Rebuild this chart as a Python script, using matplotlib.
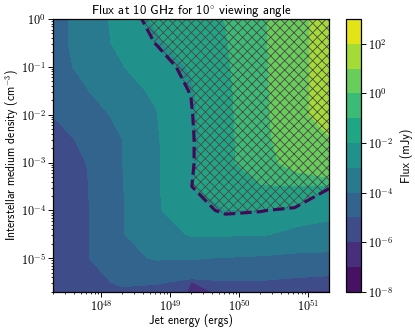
import numpy as np
import matplotlib
matplotlib.use("Agg")
import matplotlib.pyplot as plt
from matplotlib import ticker
from matplotlib.colors import LogNorm

plt.rcParams["font.family"] = ["cmss10", "DejaVu Sans"]
plt.rcParams["mathtext.fontset"] = "cm"
plt.rcParams["axes.unicode_minus"] = False
plt.rcParams["hatch.linewidth"] = 0.55
plt.rcParams["hatch.color"] = "#4a4a4a"

# grid of the simulation (log10 values)
log_energy = [47.3, 47.8, 48.3, 48.8, 49.3, 49.8, 50.3, 50.8, 51.3]
log_density = [0.0, -0.5, -1.0, -1.5, -2.0, -2.5, -3.0, -3.5, -4.0, -4.5, -5.0, -5.5, -5.7]

# log10 of the flux in mJy, one row per density
log_flux = [
    [-4.45, -3.61, -2.73, -1.86, -1.42, -0.97, -0.22, 0.58, 1.40],
    [-4.46, -3.60, -2.79, -2.12, -1.58, -1.08, -0.26, 0.58, 1.40],
    [-4.43, -3.74, -3.04, -2.49, -1.92, -1.22, -0.30, 0.58, 1.40],
    [-4.60, -4.02, -3.44, -2.82, -2.11, -1.33, -0.34, 0.58, 1.40],
    [-4.97, -4.42, -3.79, -3.04, -2.22, -1.37, -0.38, 0.56, 1.40],
    [-5.45, -4.76, -4.00, -3.12, -2.28, -1.39, -0.42, 0.50, 0.95],
    [-5.70, -4.97, -4.03, -3.17, -2.30, -1.35, -0.45, 0.30, 0.60],
    [-5.80, -5.05, -4.08, -3.17, -2.22, -1.10, -1.05, -1.20, -2.10],
    [-5.85, -5.10, -4.12, -3.20, -2.35, -2.05, -2.12, -2.50, -2.75],
    [-5.90, -5.10, -4.13, -3.20, -2.95, -2.95, -2.95, -3.30, -3.40],
    [-5.96, -5.10, -4.10, -3.95, -3.95, -4.10, -4.40, -4.40, -4.40],
    [-6.01, -5.30, -4.85, -4.90, -6.10, -5.10, -5.05, -5.20, -5.40],
    [-5.95, -5.40, -5.20, -5.50, -6.30, -5.80, -5.80, -6.05, -6.30],
]

detection_limit = 7e-3  # mJy
levels = np.logspace(-8, 3, 12)
cbar_ticks = [1e-8, 1e-6, 1e-4, 1e-2, 1e0, 1e2]

E, N = np.meshgrid(10 ** np.array(log_energy), 10 ** np.array(log_density))
F = 10 ** np.array(log_flux)

fig = plt.figure(figsize=(415 / 112, 332 / 112), dpi=112)
ax = fig.add_axes([0.1277, 0.1214, 0.6651, 0.8214])
cax = fig.add_axes([0.8337, 0.1214, 0.0354, 0.8214])

cs = ax.contourf(E, N, F, levels=levels, norm=LogNorm(), cmap="viridis")

# hatch the detectable region
ax.contourf(E, N, F, levels=[detection_limit, 1e4], colors="none", hatches=["xxxx"])
ax.contour(E, N, F, levels=[detection_limit], colors="#3f0b57",
           linestyles="--", linewidths=2.0)

ax.set_xscale("log")
ax.set_yscale("log")
ax.set_xlim(10 ** 47.3, 10 ** 51.3)
ax.set_ylim(10 ** -5.7, 1)

fmt = ticker.FuncFormatter(lambda v, p: r"$10^{%d}$" % round(np.log10(v)))
ax.xaxis.set_major_locator(ticker.FixedLocator([1e48, 1e49, 1e50, 1e51]))
ax.yaxis.set_major_locator(ticker.FixedLocator([1e0, 1e-1, 1e-2, 1e-3, 1e-4, 1e-5]))
ax.xaxis.set_major_formatter(fmt)
ax.yaxis.set_major_formatter(fmt)
ax.xaxis.set_minor_formatter(ticker.NullFormatter())
ax.yaxis.set_minor_formatter(ticker.NullFormatter())
ax.tick_params(which="major", labelsize=7.8, length=3, width=0.6, pad=1.5)
ax.tick_params(which="minor", length=1.5, width=0.5)

ax.set_xlabel("Jet energy (ergs)", fontsize=7.6)
ax.set_ylabel("Interstellar medium density (cm$^{-3}$)", fontsize=7.5)
ax.xaxis.set_label_coords(0.5, -0.082)
ax.yaxis.set_label_coords(-0.115, 0.5)
ax.set_title("Flux at 10 GHz for 10$^{\\circ}$ viewing angle", fontsize=8.2, pad=2)

cbar = fig.colorbar(cs, cax=cax, ticks=cbar_ticks)
cbar.ax.yaxis.set_major_formatter(fmt)
cbar.ax.minorticks_off()
cbar.ax.tick_params(labelsize=7.8, length=3, width=0.6, pad=2)
cbar.set_label("Flux (mJy)", fontsize=7.6, labelpad=4)

fig.savefig("out.png", dpi=112)
